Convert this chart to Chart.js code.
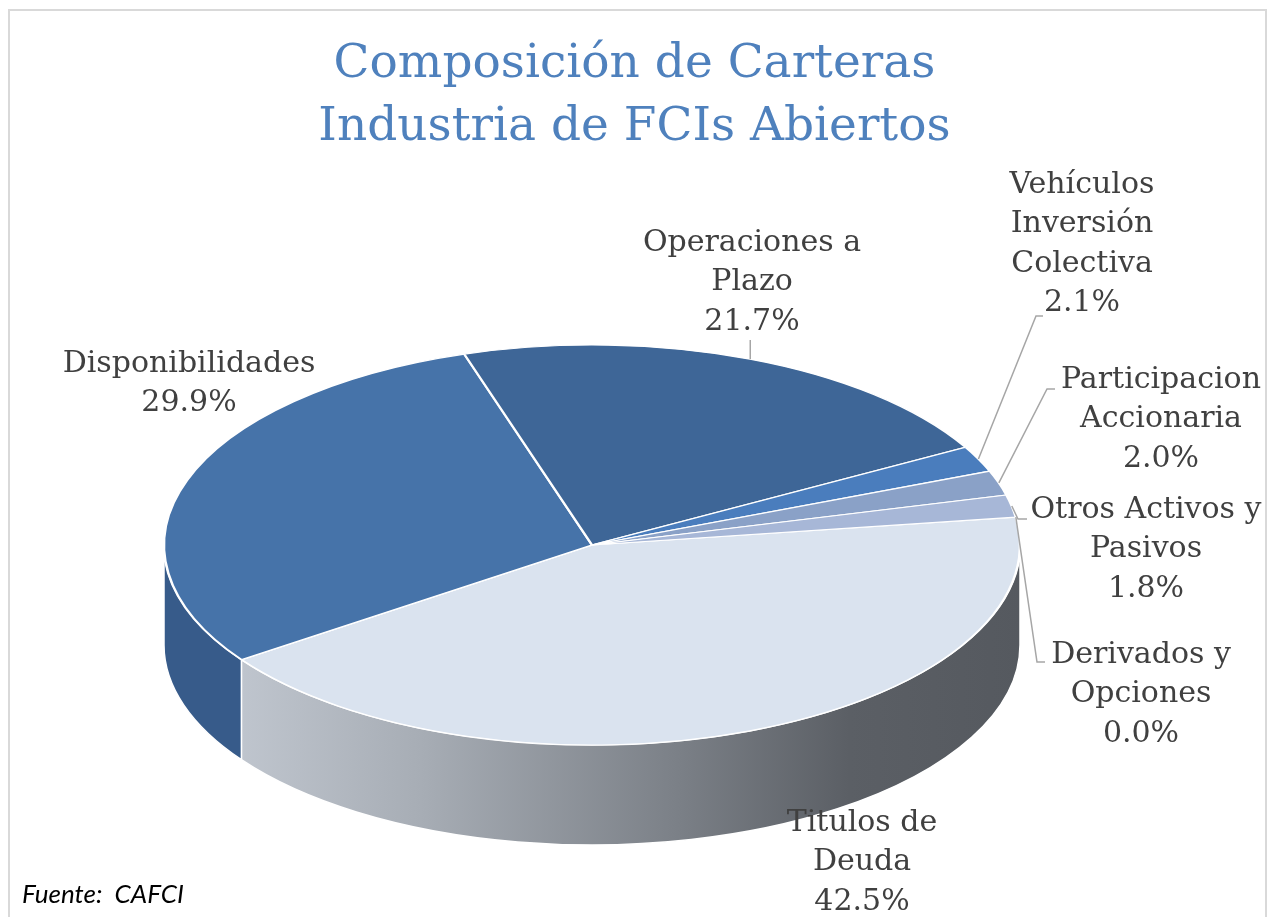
<!DOCTYPE html>
<html>
<head>
<meta charset="utf-8">
<script src="https://cdn.jsdelivr.net/npm/chart.js@4.4.1/dist/chart.umd.min.js"></script>
<style>
  html, body { margin: 0; padding: 0; background: #fff; }
  canvas { display: block; }
</style>
</head>
<body>
<canvas id="chartCartera" width="1269" height="917"></canvas>
<script>
// data
const categories = ['Titulos de Deuda', 'Disponibilidades', 'Operaciones a Plazo', 'Vehículos Inversión Colectiva',
  'Participacion Accionaria', 'Otros Activos y Pasivos', 'Derivados y Opciones'];
const labelLines = [['Titulos de', 'Deuda'], ['Disponibilidades'], ['Operaciones a', 'Plazo'],
  ['Vehículos', 'Inversión', 'Colectiva'], ['Participacion', 'Accionaria'], ['Otros Activos y', 'Pasivos'], ['Derivados y', 'Opciones']];
const shares = [42.5, 29.9, 21.7, 2.1, 2.0, 1.8, 0.0];
const topColors = ['#dae3ef', '#4673a9', '#3e6697', '#4a7dbd', '#8aa1c7', '#a7b7d7', '#c9d3e6'];
const sideColors = ['#8a9098', '#375b8a', '#2f4f78', '#3a639a', '#6f84a6', '#8796b3', '#a3adc0'];

// layout of the flattened pie and its labels
const geo = { cx: 592, cy: 545, rx: 428, ry: 200, depth: 100 };
const labelPos = [
  { x: 862, y: 823 },
  { x: 189, y: 364 },
  { x: 752, y: 243, up: 340 },
  { x: 1082, y: 185, lead: [1036, 316, 1043] },
  { x: 1161, y: 380, lead: [1047, 389, 1055] },
  { x: 1146, y: 510, lead: [1018, 519, 1027] },
  { x: 1141, y: 655, lead: [1037, 662, 1045] }
];

const frame = {
  id: 'frame',
  beforeDraw(chart) {
    const c = chart.ctx;
    c.save();
    c.fillStyle = '#fff';
    c.fillRect(0, 0, chart.width, chart.height);
    c.strokeStyle = '#d9d9d9';
    c.lineWidth = 2;
    c.strokeRect(9, 10, 1257, 1000);
    c.restore();
  },
  afterDraw(chart) {
    const c = chart.ctx;
    c.save();
    c.font = 'italic 26px Lato';
    c.fillStyle = '#000';
    c.textBaseline = 'alphabetic';
    c.fillText('Fuente:  CAFCI', 22, 903);
    c.restore();
  }
};

const pie3d = {
  id: 'pie3d',
  beforeDatasetsDraw(chart) {
    const c = chart.ctx;
    const arcs = chart.getDatasetMeta(0).data;
    const { cx, cy, rx, ry, depth } = geo;
    // side walls of the front half
    arcs.forEach((arc, i) => {
      const s = Math.max(arc.startAngle, 0), e = Math.min(arc.endAngle, Math.PI);
      if (e <= s) return;
      c.save();
      c.beginPath();
      c.ellipse(cx, cy, rx, ry, 0, s, e, false);
      c.ellipse(cx, cy + depth, rx, ry, 0, e, s, true);
      c.closePath();
      let fill = sideColors[i];
      if (i === 0) {
        fill = c.createLinearGradient(cx - rx, 0, cx + rx, 0);
        fill.addColorStop(0, '#c9cfd8');
        fill.addColorStop(0.3, '#a7adb5');
        fill.addColorStop(0.6, '#7b8087');
        fill.addColorStop(0.8, '#5b5f65');
        fill.addColorStop(1, '#55595f');
      }
      c.fillStyle = fill;
      c.fill();
      c.strokeStyle = '#fff';
      c.lineWidth = 1.5;
      c.stroke();
      c.restore();
    });
    const a = arcs[0];
    c.save();
    c.translate(cx, cy);
    c.scale(rx / a.outerRadius, ry / a.outerRadius);
    c.translate(-a.x, -a.y);
  },
  afterDatasetsDraw(chart) {
    const c = chart.ctx;
    c.restore();
    const arcs = chart.getDatasetMeta(0).data;
    const { cx, cy, rx, ry } = geo;
    c.save();
    c.font = '30px "DejaVu Serif"';
    c.fillStyle = '#404040';
    c.textAlign = 'center';
    c.textBaseline = 'middle';
    c.strokeStyle = '#a6a6a6';
    c.lineWidth = 1.5;
    arcs.forEach((arc, i) => {
      const p = labelPos[i];
      const m = (arc.startAngle + arc.endAngle) / 2;
      const ex = cx + rx * Math.cos(m), ey = cy + ry * Math.sin(m);
      if (p.lead) {
        c.beginPath();
        c.moveTo(ex, ey);
        c.lineTo(p.lead[0], p.lead[1]);
        c.lineTo(p.lead[2], p.lead[1]);
        c.stroke();
      } else if (p.up) {
        c.beginPath();
        c.moveTo(ex, ey);
        c.lineTo(ex, p.up);
        c.stroke();
      }
      const lines = labelLines[i].concat([shares[i].toFixed(1) + '%']);
      lines.forEach((t, k) => c.fillText(t, p.x, p.y + k * 39.5));
    });
    c.restore();
  }
};

new Chart(document.getElementById('chartCartera'), {
  type: 'pie',
  data: {
    labels: categories,
    datasets: [{ data: shares, backgroundColor: topColors, borderColor: '#ffffff', borderWidth: 2 }]
  },
  options: {
    responsive: false,
    animation: false,
    rotation: 82,
    layout: { padding: { top: 0, bottom: 20, left: 300, right: 300 } },
    plugins: {
      legend: { display: false },
      tooltip: { enabled: false },
      title: {
        display: true,
        text: ['Composición de Carteras', 'Industria de FCIs Abiertos'],
        color: '#4f81bd',
        font: { family: 'DejaVu Serif', size: 47, weight: 'normal', lineHeight: 1.35 },
        padding: { top: 33, bottom: 10 }
      }
    }
  },
  plugins: [frame, pie3d]
});
</script>
</body>
</html>
